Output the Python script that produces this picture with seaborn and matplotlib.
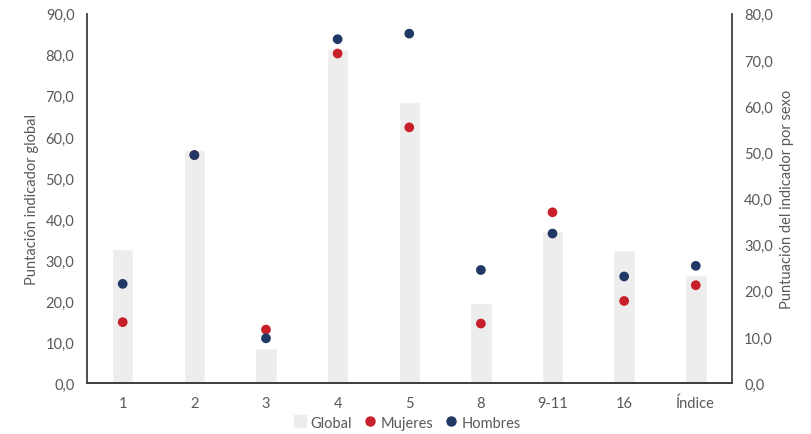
import pandas as pd
import seaborn as sns
import matplotlib.pyplot as plt
from matplotlib.lines import Line2D
from matplotlib.ticker import FuncFormatter, MultipleLocator

# data
categorias = ['1', '2', '3', '4', '5', '8', '9-11', '16', 'Índice']
global_vals = [32.7, 56.8, 8.5, 81.5, 68.6, 19.5, 37.0, 32.4, 26.4]
mujeres = [13.2, 49.4, 11.6, 71.4, 55.4, 12.9, 37.0, 17.8, 21.2]
hombres = [21.5, 49.4, 9.7, 74.5, 75.7, 24.5, 32.4, 23.1, 25.4]

gris = '#ededed'
rojo = '#c8202a'
azul = '#1f3864'
texto = '#595959'

sns.set_style('white')
plt.rcParams['font.family'] = ['Lato', 'DejaVu Sans']

df_global = pd.DataFrame({'cat': categorias, 'valor': global_vals})
df_sexo = pd.DataFrame({
    'cat': categorias * 2,
    'valor': mujeres + hombres,
    'sexo': ['Mujeres'] * len(categorias) + ['Hombres'] * len(categorias),
})

fig = plt.figure(figsize=(8.12, 4.35), dpi=100)
ax = fig.add_axes([0.107, 0.117, 0.794, 0.849])

# bars on left axis
sns.barplot(data=df_global, x='cat', y='valor', color=gris, width=0.3,
            saturation=1, ax=ax, order=categorias)

# dots on right axis
ax2 = ax.twinx()
sns.stripplot(data=df_sexo, x='cat', y='valor', hue='sexo', order=categorias,
              hue_order=['Mujeres', 'Hombres'], palette=[rojo, azul],
              jitter=False, dodge=False, size=7, linewidth=0, ax=ax2, legend=False)

fmt = FuncFormatter(lambda v, p: f'{v:.1f}'.replace('.', ','))
ax.set_ylim(0, 90)
ax.yaxis.set_major_locator(MultipleLocator(10))
ax.yaxis.set_major_formatter(fmt)
ax2.set_ylim(0, 80)
ax2.yaxis.set_major_locator(MultipleLocator(10))
ax2.yaxis.set_major_formatter(fmt)
ax.set_xlim(-0.5, len(categorias) - 0.5)

ax.set_xlabel('')
ax.set_ylabel('Puntación indicador global', color=texto, fontsize=10.5, labelpad=5)
ax2.set_ylabel('Puntuación del indicador por sexo', color=texto, fontsize=10.5, labelpad=5)
ax2.set_xlabel('')

for a in (ax, ax2):
    a.tick_params(axis='both', colors=texto, labelsize=10.5, length=0, pad=9)
    a.spines['top'].set_visible(False)
    for s in ('left', 'right', 'bottom'):
        a.spines[s].set_color('#404040')
        a.spines[s].set_linewidth(1.3)
ax.spines['right'].set_visible(False)
ax2.spines['left'].set_visible(False)

handles = [
    Line2D([], [], marker='s', linestyle='', color=gris, markersize=8),
    Line2D([], [], marker='o', linestyle='', color=rojo, markersize=6.5),
    Line2D([], [], marker='o', linestyle='', color=azul, markersize=6.5),
]
leg = fig.legend(handles, ['Global', 'Mujeres', 'Hombres'], loc='lower center',
                 bbox_to_anchor=(0.5, -0.02), ncol=3, frameon=False, fontsize=10.5,
                 handletextpad=0.15, columnspacing=0.6, handlelength=1.2)
for t in leg.get_texts():
    t.set_color(texto)

fig.savefig('out.png', dpi=100)
